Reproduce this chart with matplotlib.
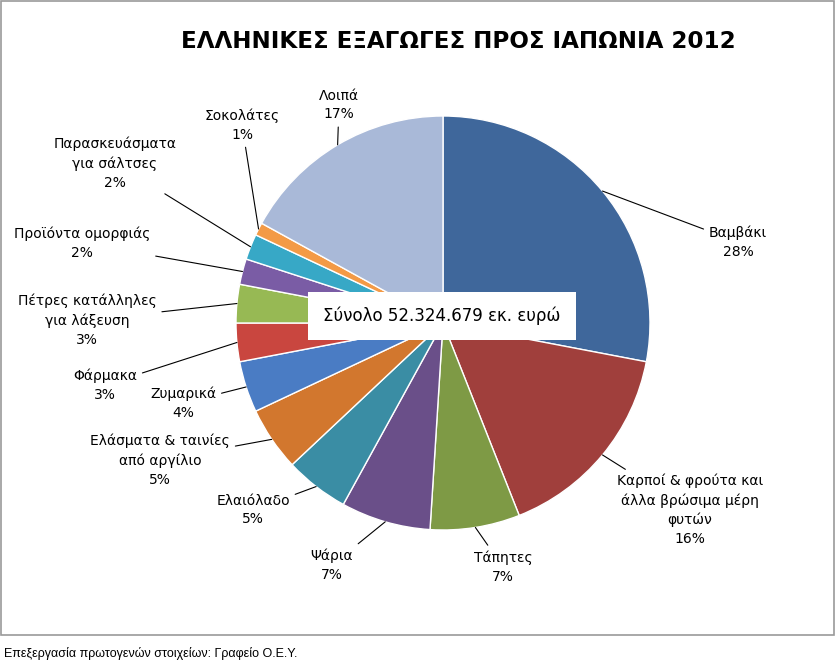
import numpy as np
import matplotlib.pyplot as plt
from matplotlib.patches import Rectangle

labels = ["Βαμβάκι", "Καρποί & φρούτα και\nάλλα βρώσιμα μέρη\nφυτών", "Τάπητες", "Ψάρια",
          "Ελαιόλαδο", "Ελάσματα & ταινίες\nαπό αργίλιο", "Ζυμαρικά", "Φάρμακα",
          "Πέτρες κατάλληλες\nγια λάξευση", "Προϊόντα ομορφιάς",
          "Παρασκευάσματα\nγια σάλτσες", "Σοκολάτες", "Λοιπά"]
shares = [28, 16, 7, 7, 5, 5, 4, 3, 3, 2, 2, 1, 17]
colors = ["#3F679B", "#A03F3C", "#7E9A45", "#6A4F89", "#3A8DA4", "#D2772E", "#4A7CC4",
          "#C9463F", "#97B954", "#7A5CA5", "#37A8C6", "#F39A46", "#A9B9D8"]
# label centres in pixel coordinates (layout only)
label_pos = [(738, 242), (690, 510), (503, 567), (332, 565), (253, 510), (160, 460),
             (183, 403), (105, 385), (87, 320), (82, 243), (115, 163), (242, 125), (339, 105)]

W, H = 836, 662
fig = plt.figure(figsize=(W / 100, H / 100), dpi=100)
ax = fig.add_axes([0, 0, 1, 1])

cx, cy, r = 443, 323, 207
ax.add_patch(Rectangle((1, 1), W - 3, 634, fill=False, ec="#9a9a9a", lw=1.2))
wedges, _ = ax.pie(shares, colors=colors, startangle=-90, counterclock=True,
                   center=(cx, cy), radius=r, frame=True,
                   wedgeprops=dict(ec="white", lw=1.0))
ax.set_xlim(0, W)
ax.set_ylim(H, 0)
ax.set_aspect("equal")
ax.axis("off")

for w, lab, val, pos in zip(wedges, labels, shares, label_pos):
    ang = np.deg2rad((w.theta1 + w.theta2) / 2)
    px, py = cx + 1.0 * r * np.cos(ang), cy + 1.0 * r * np.sin(ang)
    ax.annotate(f"{lab}\n{val}%", xy=(px, py), xytext=pos, ha="center", va="center",
                fontsize=10, family="DejaVu Sans", linespacing=1.45,
                arrowprops=dict(arrowstyle="-", color="black", lw=0.8, shrinkA=2, shrinkB=0))

ax.text(458, 42, "ΕΛΛΗΝΙΚΕΣ ΕΞΑΓΩΓΕΣ ΠΡΟΣ ΙΑΠΩΝΙΑ 2012", ha="center", va="center",
        fontsize=16.6, fontweight="bold")
ax.text(442, 316, "Σύνολο 52.324.679 εκ. ευρώ", ha="center", va="center", fontsize=12,
        bbox=dict(boxstyle="square,pad=0.9", fc="white", ec="none"))
ax.text(4, 653, "Επεξεργασία πρωτογενών στοιχείων: Γραφείο Ο.Ε.Υ.", ha="left", va="center",
        fontsize=9, family="Liberation Sans")

fig.savefig("out.png", dpi=100)
